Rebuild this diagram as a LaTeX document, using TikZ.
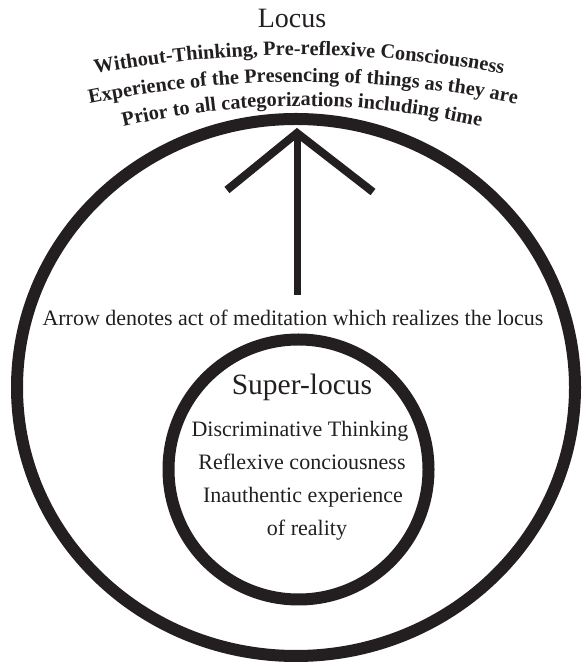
\documentclass[tikz,border=0pt]{standalone}
\usepackage{fontspec}
\setmainfont{Liberation Serif}
\usetikzlibrary{decorations.text}
\definecolor{ink}{HTML}{231F20}
\begin{document}
\begin{tikzpicture}[x=1pt,y=1pt,
  ring/.style={draw=ink, line width=12pt},
  shaft/.style={draw=ink, line width=7pt},
  head/.style={draw=ink, line width=8pt, miter limit=10},
  label/.style={text=ink, anchor=base, inner sep=0pt},
  arctext/.style={decorate, decoration={text along path, text align=center, text color=ink, text={#1}}}]
\useasboundingbox (0,0) rectangle (586,663);
% outer ellipse and inner circle
\draw[ring] (296,275.5) ellipse[x radius=279, y radius=268.5];
\draw[ring] (298.5,193.5) circle[radius=130];
% arrow
\coordinate (tip) at (297,530);
\coordinate (base) at (297,368);
\coordinate (lw) at (227,473);
\coordinate (rw) at (373,471);
\draw[shaft] (base) -- (tip);
\draw[head] (lw) -- (tip) -- (rw);
% title
\node[label, font=\fontsize{28}{30}\selectfont] (locus) at (292,635) {Locus};
\path[arctext={|\fontsize{20.3}{22}\selectfont\bfseries|Without-Thinking, Pre-reflexive Consciousness}]
  (299,-492) ++(103:1100) arc[start angle=103, end angle=77, radius=1100];
\path[arctext={|\fontsize{20.3}{22}\selectfont\bfseries|Experience of the Presencing of things as they are}]
  (303,-469) ++(104:1050) arc[start angle=104, end angle=76, radius=1050];
\path[arctext={|\fontsize{20.3}{22}\selectfont\bfseries|Prior to all categorizations including time}]
  (302,-223) ++(106:780) arc[start angle=106, end angle=74, radius=780];
% middle note
\node[label, font=\fontsize{22}{24}\selectfont] (note) at (293,337) {Arrow denotes act of meditation which realizes the locus};
% inner text
\node[label, font=\fontsize{29.5}{30}\selectfont] (super) at (302,268) {Super-locus};
\node[label, font=\fontsize{22}{24}\selectfont] (l1) at (300,226) {Discriminative Thinking};
\node[label, font=\fontsize{22}{24}\selectfont] (l2) at (302,193) {Reflexive conciousness};
\node[label, font=\fontsize{22}{24}\selectfont] (l3) at (303,160) {Inauthentic experience};
\node[label, font=\fontsize{22}{24}\selectfont] (l4) at (307,127) {of reality};
\end{tikzpicture}
\end{document}
